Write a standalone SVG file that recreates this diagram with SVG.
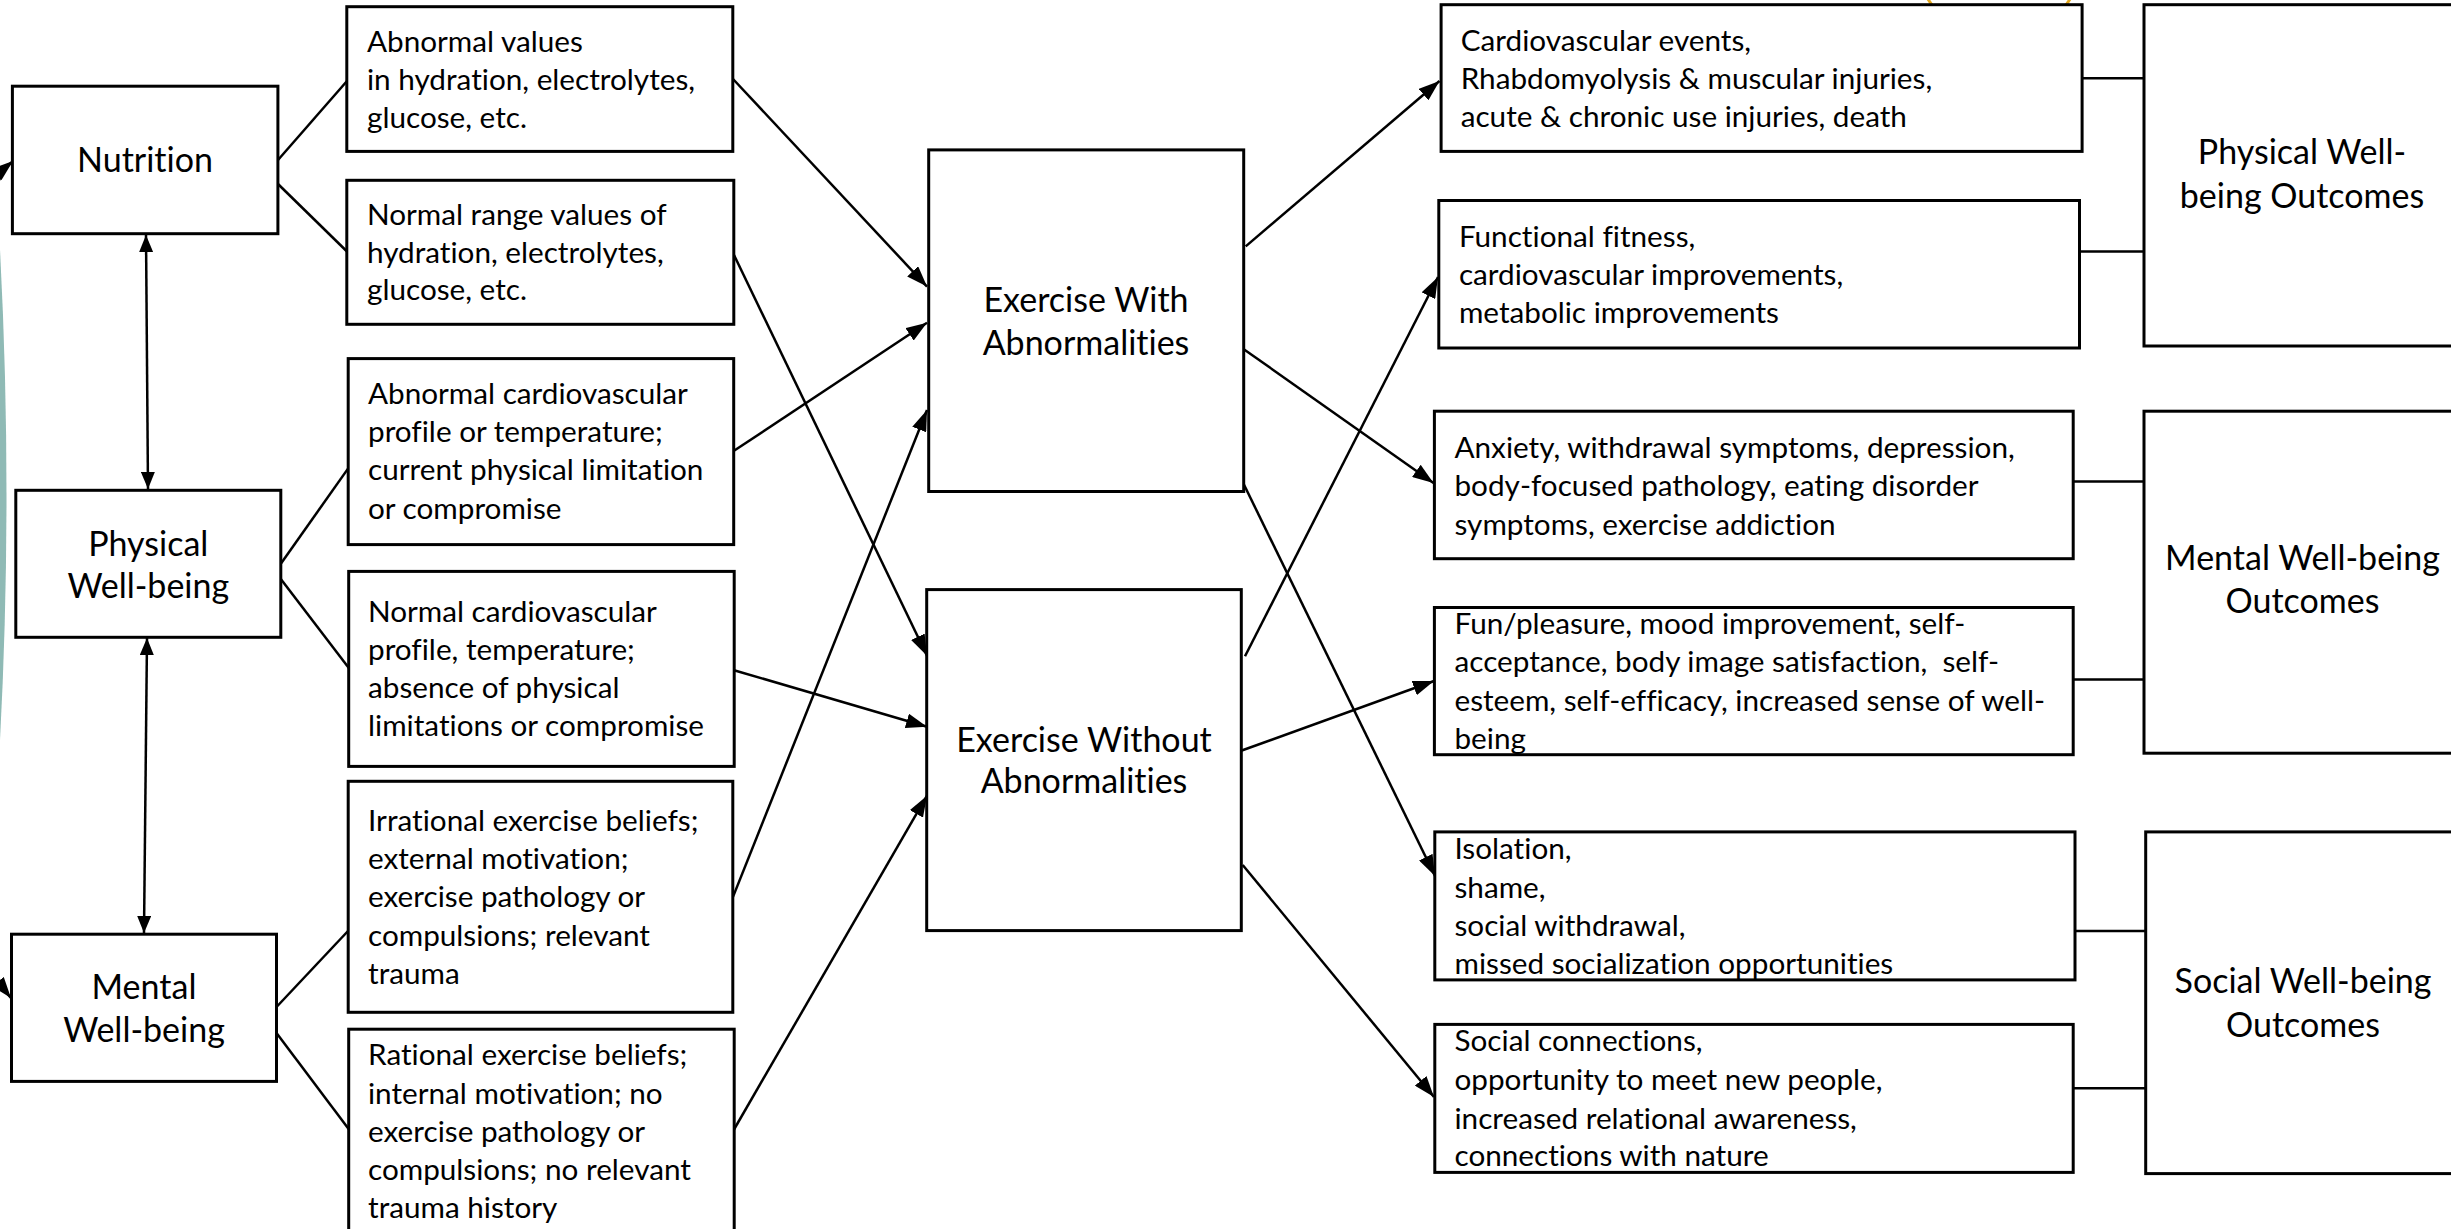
<svg xmlns="http://www.w3.org/2000/svg" width="2451" height="1229" viewBox="0 0 2451 1229">
<style>
.box{fill:#fff;stroke:#000;stroke-width:3}
.t{font-family:Lato,"Open Sans",sans-serif;font-size:29.7px;fill:#000;font-variant-ligatures:none;font-feature-settings:"liga" 0}
.h{font-family:Lato,"Open Sans",sans-serif;font-size:34px;fill:#000;text-anchor:middle;font-variant-ligatures:none;font-feature-settings:"liga" 0}
.ln{stroke:#000;stroke-width:2.5;fill:none}
.ar{marker-end:url(#ah)}
.dbl{marker-start:url(#ah2);marker-end:url(#ah2)}
</style>
<defs>
<marker id="ah" markerUnits="userSpaceOnUse" markerWidth="22" markerHeight="15" refX="21" refY="7.5" orient="auto"><path d="M0,0 L21,7.5 L0,15 z" fill="#000"/></marker>
<marker id="ah2" markerUnits="userSpaceOnUse" markerWidth="18" markerHeight="14" refX="17" refY="7" orient="auto-start-reverse"><path d="M0,0 L17,7 L0,14 z" fill="#000"/></marker>
<clipPath id="cR4"><rect x="1434" y="606" width="640" height="150"/></clipPath>
<clipPath id="cR5"><rect x="1434" y="830" width="642" height="151"/></clipPath>
</defs>
<rect width="2451" height="1229" fill="#fff"/>
<g id="decor">
<path d="M0,250 Q13,495 0,740 Z" fill="#8fbab5"/>
<circle cx="1999" cy="-42" r="82" fill="none" stroke="#e3a81e" stroke-width="3"/>
</g>
<g id="connectors">
<path class="ln ar" d="M-6,192 Q2,170 13,161"/>
<path class="ln ar" d="M-6,982 Q3,988 11,998"/>
<line class="ln dbl" x1="146" y1="235" x2="148" y2="489"/>
<line class="ln dbl" x1="147" y1="638" x2="144" y2="933"/>
<line class="ln" x1="278" y1="160" x2="347" y2="81"/>
<line class="ln" x1="278" y1="184" x2="347" y2="251.5"/>
<line class="ln" x1="281" y1="563.5" x2="348" y2="468.6"/>
<line class="ln" x1="281" y1="579.3" x2="349" y2="668.2"/>
<line class="ln" x1="276.5" y1="1007" x2="348" y2="931"/>
<line class="ln" x1="276.5" y1="1033" x2="349" y2="1129.5"/>
<line class="ln ar" x1="733" y1="79" x2="927" y2="286.6"/>
<line class="ln ar" x1="734" y1="450.8" x2="927" y2="322.7"/>
<line class="ln ar" x1="733" y1="896.9" x2="927" y2="410"/>
<line class="ln ar" x1="734" y1="255" x2="927" y2="655.7"/>
<line class="ln ar" x1="734" y1="670.2" x2="927" y2="726.8"/>
<line class="ln ar" x1="734" y1="1129.5" x2="927" y2="795.7"/>
<line class="ln ar" x1="1245.7" y1="246.4" x2="1439.5" y2="81"/>
<line class="ln ar" x1="1242.7" y1="348.4" x2="1433.5" y2="483"/>
<line class="ln ar" x1="1242.7" y1="482" x2="1435" y2="876"/>
<line class="ln ar" x1="1245" y1="656.3" x2="1438" y2="277"/>
<line class="ln ar" x1="1238.3" y1="751.8" x2="1434" y2="681"/>
<line class="ln ar" x1="1242.7" y1="865" x2="1434" y2="1097"/>
<line class="ln" x1="2082" y1="78.3" x2="2144" y2="78.3"/>
<line class="ln" x1="2079.5" y1="251.5" x2="2144" y2="251.5"/>
<line class="ln" x1="2073" y1="481.6" x2="2144" y2="481.6"/>
<line class="ln" x1="2073" y1="679.4" x2="2144" y2="679.4"/>
<line class="ln" x1="2075" y1="931" x2="2146" y2="931"/>
<line class="ln" x1="2073" y1="1088.2" x2="2146" y2="1088.2"/>
</g>
<g id="n-nutrition"><rect class="box" x="12.4" y="86.2" width="265.5" height="147.5"/><text class="h" x="145" y="172">Nutrition</text></g>
<g id="n-physical"><rect class="box" x="15.8" y="490.3" width="265" height="147"/><text class="h" x="148.3" y="555.5">Physical</text><text class="h" x="148.3" y="598">Well-being</text></g>
<g id="n-mental"><rect class="box" x="11.5" y="934.2" width="265" height="147.2"/><text class="h" x="144" y="999">Mental</text><text class="h" x="144" y="1042">Well-being</text></g>
<g id="n-a1"><rect class="box" x="346.8" y="6.7" width="386" height="144.7"/><text class="t"><tspan x="367" y="52">Abnormal values</tspan><tspan x="367" y="90">in hydration, electrolytes,</tspan><tspan x="367" y="128">glucose, etc.</tspan></text></g>
<g id="n-a2"><rect class="box" x="346.8" y="180.3" width="387" height="144"/><text class="t"><tspan x="367" y="225">Normal range values of</tspan><tspan x="367" y="262.5">hydration, electrolytes,</tspan><tspan x="367" y="300">glucose, etc.</tspan></text></g>
<g id="n-b1"><rect class="box" x="348.2" y="358.6" width="385.5" height="186"/><text class="t"><tspan x="368" y="404">Abnormal cardiovascular</tspan><tspan x="368" y="442">profile or temperature;</tspan><tspan x="368" y="480.4">current physical limitation</tspan><tspan x="368" y="518.8">or compromise</tspan></text></g>
<g id="n-b2"><rect class="box" x="348.7" y="571.4" width="385.5" height="195"/><text class="t"><tspan x="368" y="622">Normal cardiovascular</tspan><tspan x="368" y="660.2">profile, temperature;</tspan><tspan x="368" y="698.3">absence of physical</tspan><tspan x="368" y="736.4">limitations or compromise</tspan></text></g>
<g id="n-c1"><rect class="box" x="348.2" y="781.3" width="384.6" height="231"/><text class="t"><tspan x="368" y="830.7">Irrational exercise beliefs;</tspan><tspan x="368" y="868.8">external motivation;</tspan><tspan x="368" y="906.9">exercise pathology or</tspan><tspan x="368" y="945.8">compulsions; relevant</tspan><tspan x="368" y="984.3">trauma</tspan></text></g>
<g id="n-c2"><rect class="box" x="348.7" y="1029.2" width="385.5" height="215"/><text class="t"><tspan x="368" y="1064.5">Rational exercise beliefs;</tspan><tspan x="368" y="1103.5">internal motivation; no</tspan><tspan x="368" y="1141.6">exercise pathology or</tspan><tspan x="368" y="1179.7">compulsions; no relevant</tspan><tspan x="368" y="1217.8">trauma history</tspan></text></g>
<g id="n-exwith"><rect class="box" x="928.7" y="149.9" width="315" height="341.6"/><text class="h" x="1086" y="312.4">Exercise With</text><text class="h" x="1086" y="355.4">Abnormalities</text></g>
<g id="n-exwithout"><rect class="box" x="926.7" y="589.6" width="314.6" height="341"/><text class="h" x="1084" y="751.5">Exercise Without</text><text class="h" x="1084" y="793.4">Abnormalities</text></g>
<g id="n-r1"><rect class="box" x="1441.1" y="4.7" width="641" height="146.7"/><text class="t"><tspan x="1460.7" y="50.6">Cardiovascular events,</tspan><tspan x="1460.7" y="89">Rhabdomyolysis &amp; muscular injuries,</tspan><tspan x="1460.7" y="127.3">acute &amp; chronic use injuries, death</tspan></text></g>
<g id="n-r2"><rect class="box" x="1438.8" y="200.5" width="640.7" height="147.5"/><text class="t"><tspan x="1458.9" y="247.1">Functional fitness,</tspan><tspan x="1458.9" y="284.7">cardiovascular improvements,</tspan><tspan x="1458.9" y="323">metabolic improvements</tspan></text></g>
<g id="n-r3"><rect class="box" x="1434.4" y="411.2" width="638.8" height="147.5"/><text class="t"><tspan x="1454.5" y="457.9">Anxiety, withdrawal symptoms, depression,</tspan><tspan x="1454.5" y="496.2">body-focused pathology, eating disorder</tspan><tspan x="1454.5" y="534.6">symptoms, exercise addiction</tspan></text></g>
<g id="n-r4"><rect class="box" x="1434.4" y="607.5" width="638.8" height="147.2"/><text class="t" clip-path="url(#cR4)" xml:space="preserve"><tspan x="1454.5" y="634.1">Fun/pleasure, mood improvement, self-</tspan><tspan x="1454.5" y="672.2">acceptance, body image satisfaction,  self-</tspan><tspan x="1454.5" y="711.1">esteem, self-efficacy, increased sense of well-</tspan><tspan x="1454.5" y="749.2">being</tspan></text></g>
<g id="n-r5"><rect class="box" x="1434.8" y="831.9" width="640.2" height="148"/><text class="t" clip-path="url(#cR5)"><tspan x="1454.5" y="858.7">Isolation,</tspan><tspan x="1454.5" y="897.7">shame,</tspan><tspan x="1454.5" y="936.2">social withdrawal,</tspan><tspan x="1454.5" y="974.3">missed socialization opportunities</tspan></text></g>
<g id="n-r6"><rect class="box" x="1434.8" y="1024.4" width="638.4" height="148"/><text class="t"><tspan x="1454.5" y="1051.3">Social connections,</tspan><tspan x="1454.5" y="1090.2">opportunity to meet new people,</tspan><tspan x="1454.5" y="1128.7">increased relational awareness,</tspan><tspan x="1454.5" y="1166.4">connections with nature</tspan></text></g>
<g id="n-physical-out"><rect class="box" x="2144" y="4.7" width="320" height="341.3"/><text class="h" x="2302" y="164">Physical Well-</text><text class="h" x="2302" y="207.6">being Outcomes</text></g>
<g id="n-mental-out"><rect class="box" x="2144" y="411.2" width="320" height="342"/><text class="h" x="2302.5" y="570">Mental Well-being</text><text class="h" x="2302.5" y="613">Outcomes</text></g>
<g id="n-social-out"><rect class="box" x="2145.7" y="831.9" width="320" height="341.7"/><text class="h" x="2303" y="993">Social Well-being</text><text class="h" x="2303" y="1036.5">Outcomes</text></g>
</svg>
